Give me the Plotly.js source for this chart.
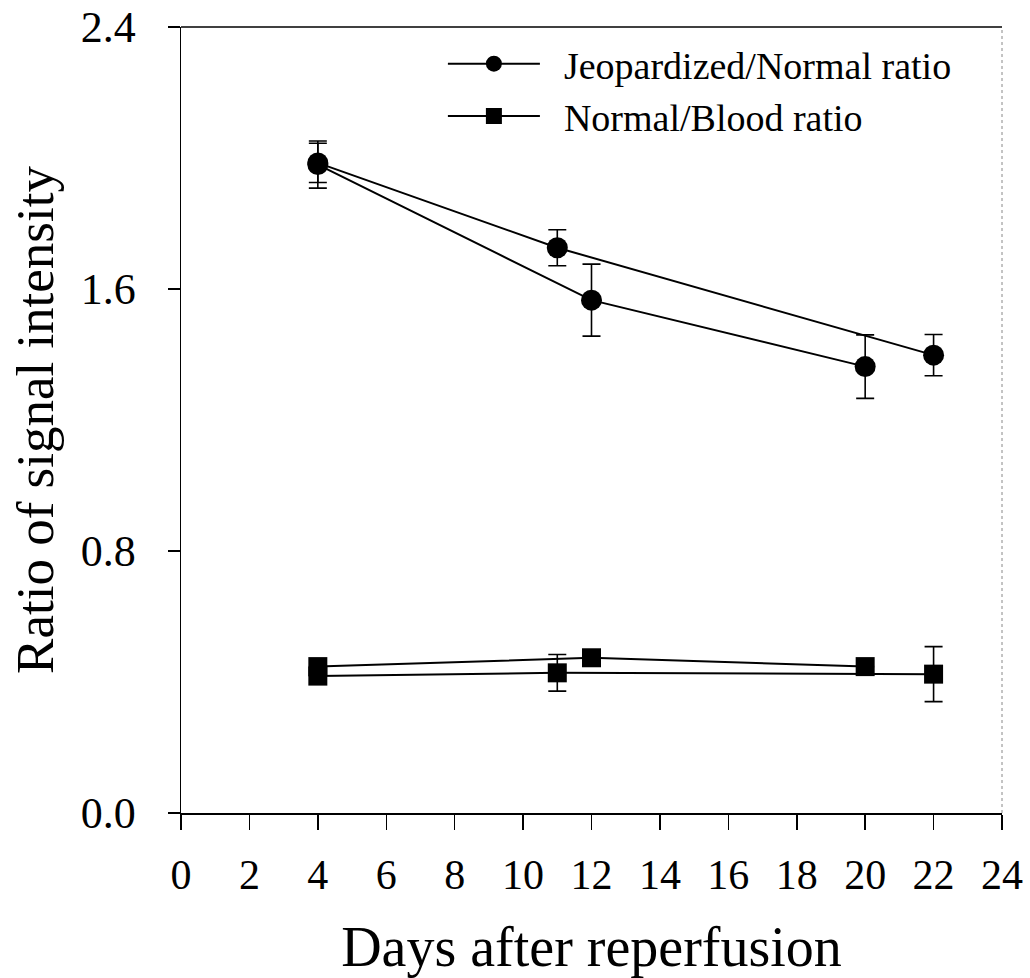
<!DOCTYPE html>
<html>
<head>
<meta charset="utf-8">
<script src="https://cdn.plot.ly/plotly-3.0.1.min.js"></script>
<style>html,body{margin:0;padding:0;background:#fff;}#chart{width:1030px;height:978px;}</style>
</head>
<body>
<div id="chart"></div>
<script>
// Jeopardized/Normal ratio (two runs)
const jnA_days = [4, 11, 22];
const jnA_vals = [1.985, 1.726, 1.398];
const jnA_err  = [0.06, 0.055, 0.063];
const jnB_days = [4, 12, 20];
const jnB_vals = [1.98, 1.566, 1.363];
const jnB_err  = [0.072, 0.11, 0.097];
// Normal/Blood ratio (two runs)
const nbA_days = [4, 12, 20];
const nbA_vals = [0.447, 0.474, 0.447];
const nbA_err  = [0, 0, 0];
const nbB_days = [4, 11, 22];
const nbB_vals = [0.418, 0.428, 0.424];
const nbB_err  = [0, 0.056, 0.084];

const xTicks = [0, 2, 4, 6, 8, 10, 12, 14, 16, 18, 20, 22, 24];
const yTicks = [0.0, 0.8, 1.6, 2.4];
const yTickText = ['0.0', '0.8', '1.6', '2.4'];

function series(x, y, err, symbol, size, name, showleg) {
  return {
    x: x, y: y, type: 'scatter', mode: 'lines+markers', name: name, showlegend: showleg,
    line: {color: '#000', width: 2},
    marker: {symbol: symbol, size: size, color: '#000'},
    error_y: {type: 'data', array: err, visible: true, color: '#000', thickness: 1.6, width: 9}
  };
}

const data = [
  series(jnA_days, jnA_vals, jnA_err, 'circle', 21, '\u00a0\u00a0Jeopardized/Normal ratio', true),
  series(jnB_days, jnB_vals, jnB_err, 'circle', 21, 'Jeopardized/Normal ratio', false),
  series(nbA_days, nbA_vals, nbA_err, 'square', 19, '\u00a0\u00a0Normal/Blood ratio', true),
  series(nbB_days, nbB_vals, nbB_err, 'square', 19, 'Normal/Blood ratio', false)
];

const font = 'Liberation Serif, Times New Roman, serif';
const layout = {
  width: 1030, height: 978,
  margin: {l: 181, r: 28, t: 27, b: 165},
  paper_bgcolor: '#fff', plot_bgcolor: '#fff',
  font: {family: font, color: '#000'},
  showlegend: true,
  legend: {x: 0.319, y: 0.993, xanchor: 'left', yanchor: 'top', bgcolor: 'rgba(0,0,0,0)',
           font: {family: font, size: 38, color: '#000'}, itemwidth: 92, tracegroupgap: 0},
  xaxis: {
    range: [0, 24], tickvals: xTicks, ticktext: xTicks.map(String),
    showgrid: false, zeroline: false, showline: true, linecolor: '#000', linewidth: 1.5,
    mirror: false, ticks: 'outside', ticklen: 15, tickwidth: 1.5, tickcolor: '#000',
    tickfont: {family: font, size: 42}, ticklabelstandoff: 9,
    title: {text: 'Days after reperfusion', font: {family: font, size: 56}, standoff: 30}
  },
  yaxis: {
    range: [0, 2.4], tickvals: yTicks, ticktext: yTickText,
    showgrid: false, zeroline: false, showline: true, linecolor: '#000', linewidth: 1.5,
    ticks: 'outside', ticklen: 12, tickwidth: 1.5, tickcolor: '#000',
    tickfont: {family: font, size: 44}, ticklabelstandoff: 23,
    title: {text: 'Ratio of signal intensity', font: {family: font, size: 53}, standoff: 10}
  },
  shapes: [
    {type: 'line', xref: 'paper', yref: 'paper', x0: 0, x1: 1, y0: 1, y1: 1, line: {color: '#000', width: 1.5}},
    {type: 'line', xref: 'paper', yref: 'paper', x0: 1, x1: 1, y0: 0, y1: 1, line: {color: '#888', width: 1, dash: 'dot'}}
  ]
};

Plotly.newPlot('chart', data, layout, {staticPlot: true, displayModeBar: false});
</script>
</body>
</html>
